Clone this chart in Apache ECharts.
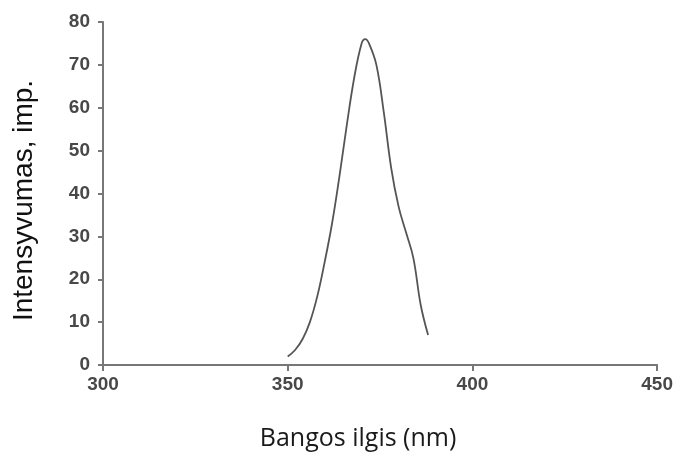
<!DOCTYPE html>
<html>
<head>
<meta charset="utf-8">
<script src="https://cdn.jsdelivr.net/npm/echarts@6/dist/echarts.min.js"></script>
<style>
  html, body { margin: 0; padding: 0; background: #fff; }
  #main { width: 676px; height: 457px; }
</style>
</head>
<body>
<div id="main"></div>
<script>
// bangos ilgis (nm) ir intensyvumas
var wavelengths = [350, 352, 354, 356, 358, 360, 362, 364, 366, 368, 370, 371, 372, 374, 376, 378, 380, 382, 384, 386, 388];
var intensity = [2, 3.5, 6, 10, 16, 24, 33, 44, 56, 67, 75, 76, 75, 70, 59, 46, 37, 31, 25, 14, 7];
var xTicks = [300, 350, 400, 450];
var yTicks = [0, 10, 20, 30, 40, 50, 60, 70, 80];

var points = wavelengths.map(function (w, i) { return [w, intensity[i]]; });

var chart = echarts.init(document.getElementById('main'));
var option = {
  animation: false,
  grid: { left: 103, right: 18, top: 22, bottom: 92 },
  xAxis: {
    type: 'value',
    min: xTicks[0],
    max: xTicks[xTicks.length - 1],
    interval: 50,
    name: 'Bangos ilgis (nm)',
    nameLocation: 'middle',
    nameGap: 61,
    nameTextStyle: { fontFamily: 'Open Sans', fontSize: 25, color: '#1a1a1a', padding: [0, 44, 0, 0] },
    axisLine: { lineStyle: { color: '#777', width: 2 } },
    axisTick: { inside: false, length: 6, lineStyle: { color: '#777', width: 2 } },
    axisLabel: { margin: 10, fontFamily: 'Liberation Sans', fontWeight: 'bold', fontSize: 19, color: '#484848' },
    splitLine: { show: false }
  },
  yAxis: {
    type: 'value',
    min: yTicks[0],
    max: yTicks[yTicks.length - 1],
    interval: 10,
    name: 'Intensyvumas, imp.',
    nameLocation: 'middle',
    nameGap: 65,
    nameTextStyle: { fontFamily: 'Liberation Sans', fontSize: 28, color: '#111', padding: [0, 14, 0, 0] },
    axisLine: { show: true, lineStyle: { color: '#777', width: 2 } },
    axisTick: { show: true, length: 5, lineStyle: { color: '#777', width: 2 } },
    axisLabel: { margin: 13, fontFamily: 'Liberation Sans', fontWeight: 'bold', fontSize: 19, color: '#484848' },
    splitLine: { show: false }
  },
  series: [{
    type: 'line',
    data: points,
    smooth: 0.4,
    showSymbol: false,
    lineStyle: { color: '#555', width: 1.8 }
  }]
};
chart.setOption(option);
</script>
</body>
</html>
